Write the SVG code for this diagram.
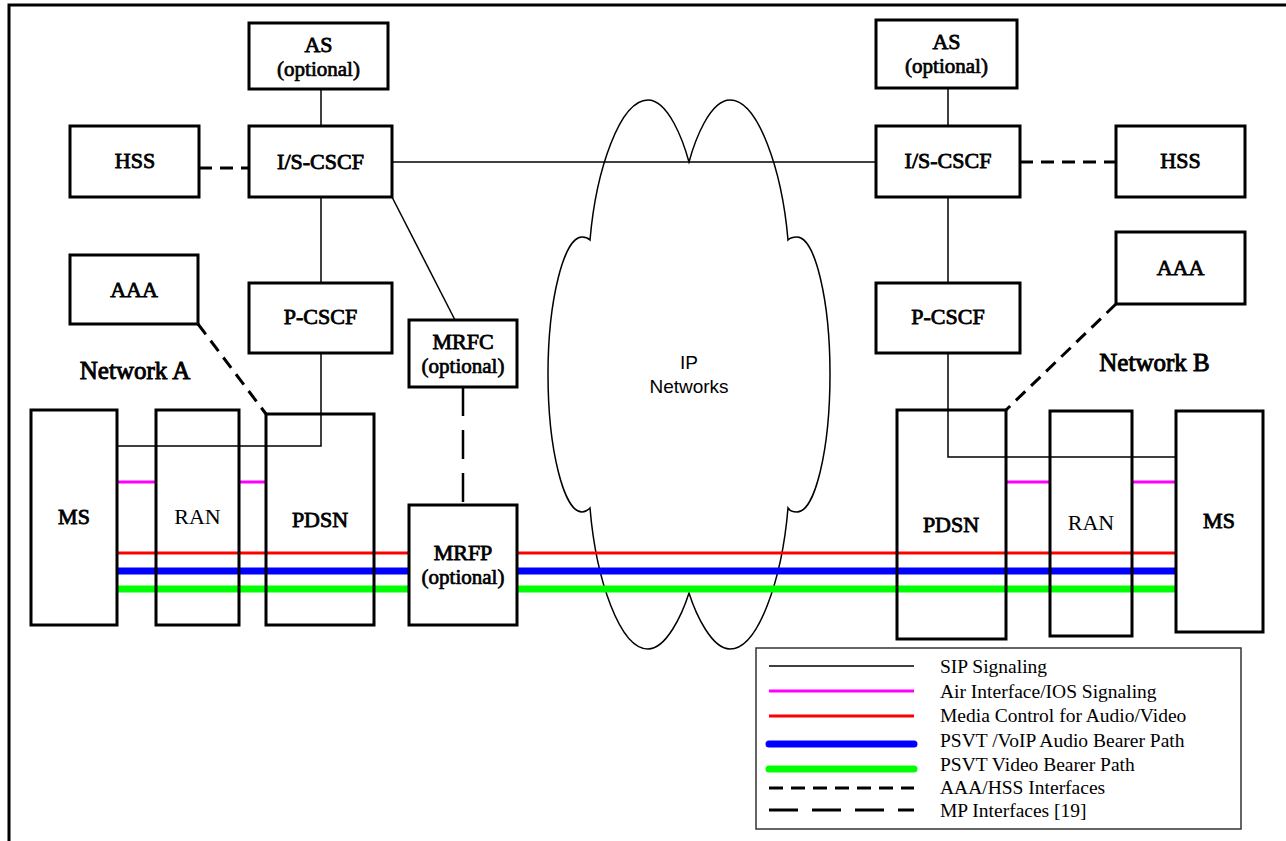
<svg xmlns="http://www.w3.org/2000/svg" width="1286" height="841" viewBox="0 0 1286 841">
<style>
.box{fill:#fff;stroke:#000;stroke-width:3}
.open{fill:none;stroke:#000;stroke-width:3}
.lb{font-family:"Liberation Serif","Times New Roman",serif;font-size:22px;text-anchor:middle;fill:#000;stroke:#000;stroke-width:0.8}
.opt{font-family:"Liberation Serif","Times New Roman",serif;font-size:21px;text-anchor:middle;fill:#000;stroke:#000;stroke-width:0.7}
.lr{font-family:"Liberation Serif","Times New Roman",serif;font-size:22px;text-anchor:middle;fill:#000}
.net{font-family:"Liberation Serif","Times New Roman",serif;font-size:25px;text-anchor:middle;fill:#000;stroke:#000;stroke-width:0.9}
.leg{font-family:"Liberation Serif","Times New Roman",serif;font-size:19.5px;fill:#000}
.sip{fill:none;stroke:#000;stroke-width:1.5}
.air{stroke:#ff00ff;stroke-width:3}
.media{stroke:#ff0000;stroke-width:3}
.audio{stroke:#0000ff;stroke-width:7}
.video{stroke:#00ff00;stroke-width:7}
.aaa{fill:none;stroke:#000;stroke-width:3;stroke-dasharray:13 8}
.mp{fill:none;stroke:#000;stroke-width:2.5;stroke-dasharray:29 14}
</style>

<!-- frame -->
<path d="M9,841 L9,5 L1286,5" fill="none" stroke="#000" stroke-width="3"/>

<!-- cloud -->
<g id="cloud">
<path fill="none" stroke="#000" stroke-width="1.5" d="M689,162 C695,140 710,100 730,100 C758,100 782,170 788,240 C790,238 793,237 797,237 C815,237 830,300 830,374 C830,450 815,512 797,512 C793,512 790,511 788,508 C782,580 758,649 730,649 C712,649 696,615 689,593 C682,615 666,649 648,649 C620,649 596,580 590,508 C587,511 585,512 582,512 C564,512 548,450 548,374 C548,300 564,237 582,237 C585,237 588,238 590,240 C596,170 620,100 648,100 C668,100 683,140 689,162 Z"/>
<text x="689" y="369" font-family="'Liberation Sans',Arial,sans-serif" font-size="19" text-anchor="middle">IP</text>
<text x="689" y="393" font-family="'Liberation Sans',Arial,sans-serif" font-size="19" text-anchor="middle">Networks</text>
</g>

<!-- connectors -->
<g id="connectors">
<line class="sip" x1="321" y1="89" x2="321" y2="126"/>
<line class="sip" x1="321" y1="197" x2="321" y2="283"/>
<line class="sip" x1="392" y1="162" x2="876" y2="162"/>
<line class="sip" x1="392" y1="197" x2="455" y2="320"/>
<polyline class="sip" points="321,353 321,446 117,446"/>
<line class="sip" x1="948" y1="88" x2="948" y2="126"/>
<line class="sip" x1="948" y1="197" x2="948" y2="283"/>
<polyline class="sip" points="948,353 948,457 1176,457"/>

<line class="aaa" x1="199" y1="168" x2="249" y2="168"/>
<line class="aaa" x1="198" y1="324" x2="266" y2="414"/>
<line class="aaa" x1="1020" y1="162" x2="1116" y2="162"/>
<line class="aaa" x1="1116" y1="304" x2="1006" y2="410"/>

<line class="mp" x1="463" y1="387" x2="463" y2="505"/>

<line class="air" x1="117" y1="482" x2="156" y2="482"/>
<line class="air" x1="239" y1="482" x2="266" y2="482"/>
<line class="air" x1="1006" y1="482" x2="1050" y2="482"/>
<line class="air" x1="1132" y1="482" x2="1176" y2="482"/>

<line class="media" x1="117" y1="553" x2="409" y2="553"/>
<line class="audio" x1="117" y1="571" x2="409" y2="571"/>
<line class="video" x1="117" y1="589" x2="409" y2="589"/>
<line class="media" x1="517" y1="553" x2="1176" y2="553"/>
<line class="audio" x1="517" y1="571" x2="1176" y2="571"/>
<line class="video" x1="517" y1="589" x2="1176" y2="589"/>
</g>

<!-- Network A nodes -->
<g id="as-a"><rect class="box" x="249" y="23" width="139" height="66"/><text class="lb" x="318.5" y="52" font-size="23">AS</text><text class="opt" x="318.5" y="76">(optional)</text></g>
<g id="iscscf-a"><rect class="box" x="249" y="126" width="143" height="71"/><text class="lb" x="320.5" y="169" font-size="21">I/S-CSCF</text></g>
<g id="hss-a"><rect class="box" x="70" y="126" width="129" height="71"/><text class="lb" x="135" y="168">HSS</text></g>
<g id="aaa-a"><rect class="box" x="70" y="255" width="128" height="69"/><text class="lb" x="134" y="297">AAA</text></g>
<g id="pcscf-a"><rect class="box" x="249" y="283" width="143" height="70"/><text class="lb" x="320.5" y="324">P-CSCF</text></g>
<g id="mrfc"><rect class="box" x="409" y="320" width="108" height="67"/><text class="lb" x="463" y="349" font-size="23">MRFC</text><text class="opt" x="463" y="373">(optional)</text></g>
<g id="ms-a"><rect class="open" x="31" y="410" width="86" height="215"/><text class="lb" x="74" y="524" font-size="23">MS</text></g>
<g id="ran-a"><rect class="open" x="156" y="410" width="83" height="215"/><text class="lr" x="197.5" y="524">RAN</text></g>
<g id="pdsn-a"><rect class="open" x="266" y="414" width="108" height="211"/><text class="lb" x="320" y="527">PDSN</text></g>
<g id="mrfp"><rect class="box" x="409" y="505" width="108" height="120"/><text class="lb" x="463" y="560" font-size="23">MRFP</text><text class="opt" x="463" y="584">(optional)</text></g>
<text id="network-a" class="net" x="135" y="379">Network A</text>

<!-- Network B nodes -->
<g id="as-b"><rect class="box" x="876" y="20" width="141" height="68"/><text class="lb" x="946.5" y="49" font-size="23">AS</text><text class="opt" x="946.5" y="73">(optional)</text></g>
<g id="iscscf-b"><rect class="box" x="876" y="126" width="144" height="71"/><text class="lb" x="948" y="168" font-size="21">I/S-CSCF</text></g>
<g id="hss-b"><rect class="box" x="1116" y="126" width="129" height="71"/><text class="lb" x="1180.5" y="168">HSS</text></g>
<g id="aaa-b"><rect class="box" x="1116" y="232" width="129" height="72"/><text class="lb" x="1180.5" y="275">AAA</text></g>
<g id="pcscf-b"><rect class="box" x="876" y="283" width="144" height="70"/><text class="lb" x="948" y="324">P-CSCF</text></g>
<g id="pdsn-b"><rect class="open" x="897" y="410" width="109" height="229"/><text class="lb" x="951" y="532">PDSN</text></g>
<g id="ran-b"><rect class="open" x="1050" y="411" width="82" height="225"/><text class="lr" x="1091" y="530">RAN</text></g>
<g id="ms-b"><rect class="open" x="1176" y="411" width="87" height="221"/><text class="lb" x="1219" y="528" font-size="23">MS</text></g>
<text id="network-b" class="net" x="1154.5" y="371">Network B</text>

<!-- legend -->
<g id="legend">
<rect x="756" y="648" width="485" height="181" fill="#fff" stroke="#333" stroke-width="1.5"/>
<line x1="769" y1="666" x2="914" y2="666" stroke="#000" stroke-width="1.5"/>
<line x1="769" y1="691" x2="914" y2="691" stroke="#ff00ff" stroke-width="3"/>
<line x1="769" y1="716" x2="914" y2="716" stroke="#ff0000" stroke-width="3"/>
<line x1="769" y1="744" x2="914" y2="744" stroke="#0000ff" stroke-width="7" stroke-linecap="round"/>
<line x1="769" y1="769" x2="914" y2="769" stroke="#00ff00" stroke-width="7" stroke-linecap="round"/>
<line x1="769" y1="788" x2="914" y2="788" stroke="#000" stroke-width="3" stroke-dasharray="14 8"/>
<line x1="769" y1="810" x2="914" y2="810" stroke="#000" stroke-width="3" stroke-dasharray="29 14"/>
<text class="leg" x="940" y="673">SIP Signaling</text>
<text class="leg" x="940" y="698">Air Interface/IOS Signaling</text>
<text class="leg" x="940" y="722">Media Control for Audio/Video</text>
<text class="leg" x="940" y="747">PSVT /VoIP Audio Bearer Path</text>
<text class="leg" x="940" y="771">PSVT Video Bearer Path</text>
<text class="leg" x="940" y="794">AAA/HSS Interfaces</text>
<text class="leg" x="940" y="817">MP Interfaces [19]</text>
</g>
</svg>
